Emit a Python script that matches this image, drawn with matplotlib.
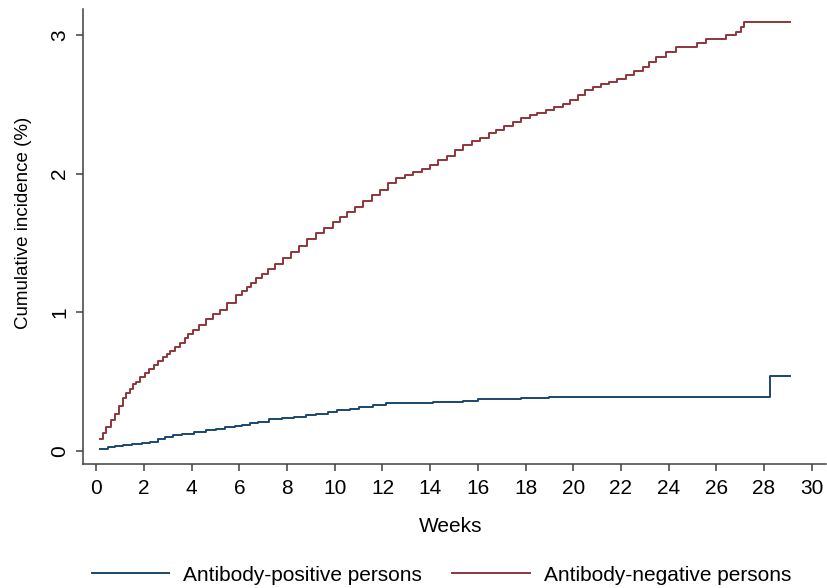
import matplotlib
matplotlib.use('Agg')
import matplotlib.pyplot as plt

plt.rcParams['font.family'] = ['Liberation Sans', 'DejaVu Sans']

# antibody-negative persons (weeks, cumulative incidence %)
neg_weeks = [0.17, 0.3, 0.42, 0.6, 0.77, 0.95, 1.12, 1.25, 1.4, 1.55, 1.68, 1.85,
             2.03, 2.2, 2.4, 2.6, 2.79, 2.95, 3.1, 3.3, 3.49, 3.7, 3.85, 4.05,
             4.3, 4.6, 4.9, 5.17, 5.5, 5.87, 6.1, 6.3, 6.5, 6.7, 6.95, 7.2,
             7.5, 7.82, 8.15, 8.5, 8.85, 9.22, 9.55, 9.92, 10.2, 10.5, 10.85, 11.19,
             11.55, 11.9, 12.25, 12.58, 12.95, 13.3, 13.65, 13.98, 14.35, 14.7, 15.05, 15.37,
             15.75, 16.1, 16.45, 16.77, 17.1, 17.47, 17.8, 18.17, 18.5, 18.87, 19.2, 19.56,
             19.85, 20.19, 20.5, 20.82, 21.15, 21.52, 21.85, 22.22, 22.55, 22.92, 23.2, 23.47,
             23.9, 24.31, 25.2, 25.56, 26.4, 26.83, 27.04, 27.15, 29.1]
neg_inc = [0.084, 0.13, 0.175, 0.225, 0.27, 0.325, 0.38, 0.415, 0.45, 0.48, 0.50, 0.535,
           0.565, 0.59, 0.62, 0.65, 0.68, 0.70, 0.72, 0.75, 0.78, 0.815, 0.84, 0.87,
           0.905, 0.95, 0.985, 1.02, 1.07, 1.125, 1.15, 1.18, 1.21, 1.245, 1.275, 1.31,
           1.35, 1.39, 1.435, 1.48, 1.525, 1.57, 1.61, 1.653, 1.685, 1.72, 1.76, 1.80,
           1.845, 1.885, 1.93, 1.966, 1.99, 2.01, 2.035, 2.062, 2.095, 2.13, 2.17, 2.206,
           2.235, 2.26, 2.29, 2.314, 2.345, 2.374, 2.40, 2.42, 2.44, 2.46, 2.48, 2.50,
           2.53, 2.567, 2.60, 2.627, 2.645, 2.66, 2.685, 2.71, 2.74, 2.77, 2.805, 2.84,
           2.875, 2.91, 2.94, 2.968, 3.0, 3.02, 3.06, 3.09, 3.09]

# antibody-positive persons
pos_weeks = [0.17, 0.5, 0.8, 1.1, 1.5, 1.9, 2.24, 2.6, 2.9, 3.21, 3.6, 4.1,
             4.6, 5.03, 5.4, 5.8, 6.1, 6.43, 6.8, 7.26, 7.8, 8.3, 8.8, 9.22,
             9.7, 10.1, 10.62, 11.03, 11.6, 12.15, 13.4, 14.1, 14.82, 15.37, 16.0, 17.0,
             17.82, 19.0, 28.26, 29.1]
pos_inc = [0.015, 0.028, 0.038, 0.045, 0.052, 0.06, 0.067, 0.085, 0.10, 0.115, 0.125, 0.135,
           0.148, 0.159, 0.17, 0.183, 0.19, 0.20, 0.21, 0.228, 0.237, 0.245, 0.258, 0.27,
           0.282, 0.292, 0.30, 0.32, 0.33, 0.344, 0.348, 0.35, 0.351, 0.36, 0.375, 0.378,
           0.38, 0.389, 0.543, 0.543]

navy = '#1A476F'
maroon = '#90353B'
axcol = '#404040'

fig = plt.figure(figsize=(8.27, 5.88), dpi=100)
ax = fig.add_axes([0.1004, 0.2109, 0.8986, 0.7738])

ax.plot(pos_weeks, pos_inc, drawstyle='steps-post', color=navy, lw=1.4,
        label='Antibody-positive persons')
ax.plot(neg_weeks, neg_inc, drawstyle='steps-post', color=maroon, lw=1.4,
        label='Antibody-negative persons')

ax.set_xlim(-0.557, 30.61)
ax.set_ylim(-0.094, 3.187)
ax.set_xticks(range(0, 31, 2))
ax.set_yticks([0, 1, 2, 3])

for s in ['top', 'right']:
    ax.spines[s].set_visible(False)
for s in ['left', 'bottom']:
    ax.spines[s].set_color(axcol)
    ax.spines[s].set_linewidth(1.1)

ax.tick_params(axis='both', colors=axcol, labelcolor='black', length=5, width=1.1,
               labelsize=15)
ax.tick_params(axis='x', pad=6)
ax.tick_params(axis='y', pad=5)
for lab in ax.get_yticklabels():
    lab.set_rotation(90)
    lab.set_va('center')

ax.set_xlabel('Weeks', fontsize=15, va='center')
ax.xaxis.set_label_coords(0.495, -0.138)
ax.set_ylabel('Cumulative incidence (%)', fontsize=13.5, va='center')
ax.yaxis.set_label_coords(-0.08, 0.53)

fig.legend(loc='center', bbox_to_anchor=(0.534, 0.022), ncol=2, frameon=False,
           fontsize=15, handlelength=3.7, handletextpad=0.67, columnspacing=1.45)

fig.savefig('out.png', dpi=100)
